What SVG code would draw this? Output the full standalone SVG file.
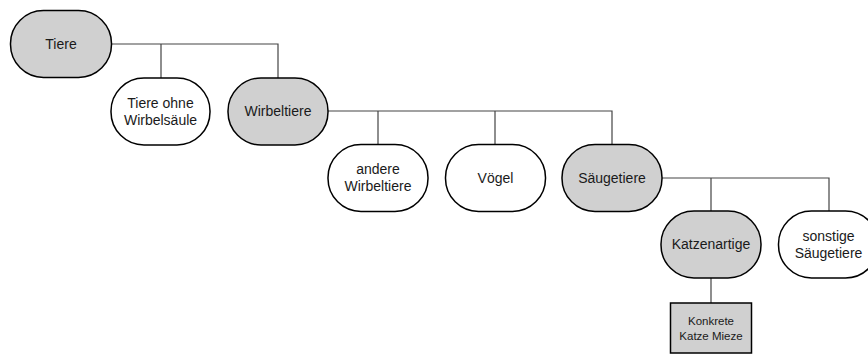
<svg xmlns="http://www.w3.org/2000/svg" width="868" height="354" viewBox="0 0 868 354">
  <style>
    .node { stroke: #000; stroke-width: 1.5; }
    .grey { fill: #d0d0d0; }
    .white { fill: #fff; }
    .lbl { font-family: "Liberation Sans", Arial, sans-serif; font-size: 14px; fill: #1a1a1a; text-anchor: middle; }
    .small { font-size: 11.5px; }
    .wire { fill: none; stroke: #444; stroke-width: 1.2; }
  </style>
  <rect width="868" height="354" fill="#fff"/>

  <g id="connectors">
    <path class="wire" d="M112 44 H278 V78 M161 44 V78"/>
    <path class="wire" d="M328 111 H612 V144 M378 111 V144 M495 111 V144"/>
    <path class="wire" d="M662 178 H829 V211 M711 178 V211"/>
    <path class="wire" d="M711 278 V303"/>
  </g>

  <g id="tiere">
    <rect class="node grey" x="10.5" y="10.5" width="101" height="67" rx="33" ry="33"/>
    <text class="lbl" x="61" y="49">Tiere</text>
  </g>
  <g id="tiere-ohne-wirbelsaeule">
    <rect class="node white" x="111" y="78" width="99" height="67" rx="33" ry="33"/>
    <text class="lbl" x="160.5" y="108">Tiere ohne</text>
    <text class="lbl" x="160.5" y="125">Wirbelsäule</text>
  </g>
  <g id="wirbeltiere">
    <rect class="node grey" x="228" y="78" width="100" height="67" rx="33" ry="33"/>
    <text class="lbl" x="278" y="116">Wirbeltiere</text>
  </g>
  <g id="andere-wirbeltiere">
    <rect class="node white" x="328" y="144.5" width="100" height="67" rx="33" ry="33"/>
    <text class="lbl" x="378" y="174">andere</text>
    <text class="lbl" x="378" y="191">Wirbeltiere</text>
  </g>
  <g id="voegel">
    <rect class="node white" x="445.5" y="144.5" width="100" height="67" rx="33" ry="33"/>
    <text class="lbl" x="495.5" y="183">Vögel</text>
  </g>
  <g id="saeugetiere">
    <rect class="node grey" x="562" y="144.5" width="100" height="67" rx="33" ry="33"/>
    <text class="lbl" x="612" y="183">Säugetiere</text>
  </g>
  <g id="katzenartige">
    <rect class="node grey" x="661" y="211" width="100" height="67" rx="33" ry="33"/>
    <text class="lbl" x="711" y="249">Katzenartige</text>
  </g>
  <g id="sonstige-saeugetiere">
    <rect class="node white" x="778.5" y="211" width="100" height="67" rx="33" ry="33"/>
    <text class="lbl" x="828.5" y="241">sonstige</text>
    <text class="lbl" x="828.5" y="258">Säugetiere</text>
  </g>
  <g id="konkrete-katze">
    <rect class="node grey" x="670.5" y="303" width="81" height="50" stroke-width="1"/>
    <text class="lbl small" x="711" y="325">Konkrete</text>
    <text class="lbl small" x="711" y="340">Katze Mieze</text>
  </g>
</svg>
